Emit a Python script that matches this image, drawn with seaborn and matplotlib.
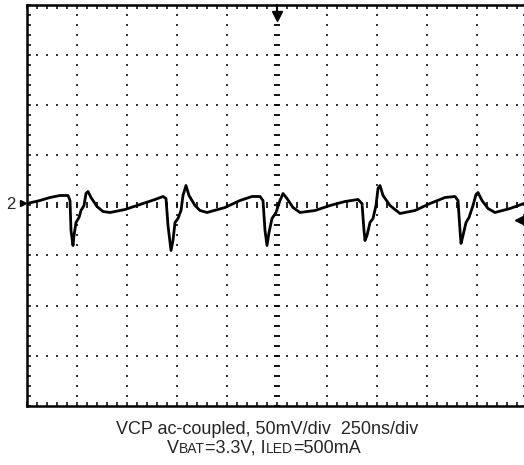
import numpy as np
import pandas as pd
import seaborn as sns
import matplotlib.pyplot as plt
from matplotlib.offsetbox import TextArea, HPacker, AnnotationBbox

# ------------------------------------------------------------
# Scope trace (time in ns, VCP in mV, ac-coupled)
# ------------------------------------------------------------
time_ns = [0, 65, 115, 165, 205, 215, 220, 230, 235, 245, 260, 270, 285, 295, 305,
           320, 350, 380, 415, 490, 565, 640, 680, 695, 705, 720, 730, 740, 755,
           770, 780, 795, 810, 840, 865, 900, 990, 1065, 1125, 1165, 1180, 1190,
           1200, 1210, 1225, 1245, 1265, 1280, 1300, 1330, 1365, 1440, 1515, 1590,
           1655, 1675, 1685, 1690, 1700, 1715, 1730, 1745, 1755, 1765, 1780, 1815,
           1865, 1940, 2015, 2090, 2140, 2155, 2165, 2170, 2180, 2195, 2210, 2230,
           2245, 2255, 2275, 2305, 2340, 2415, 2485]
vcp_mv = [2, 5, 8, 10, 10, 5, -25, -40, -30, -17, -12, -5, 0, 12, 14,
          8, -1, -6, -7, -4, 1, 6, 9, 7, -20, -45, -35, -17, -13,
          -5, 10, 20, 10, 0, -5, -7, -2, 5, 9, 9, 5, -25,
          -40, -27, -13, -7, 5, 12, 7, -2, -7, -5, 0, 4,
          6, 2, -25, -35, -30, -17, -13, 0, 17, 20, 10, 0,
          -8, -5, 2, 8, 9, 5, -25, -38, -30, -17, -12, 0,
          11, 13, 5, -3, -7, -3, 2]

volts_per_div = 50     # mV/div
time_per_div = 250     # ns/div
n_hdiv, n_vdiv = 10, 8
trigger_level_mv = -15
caption_1 = "VCP ac-coupled, 50mV/div  250ns/div"

df = pd.DataFrame({"t": time_ns, "v": vcp_mv})

sns.set_style("white")
plt.rcParams["font.family"] = ["Liberation Sans", "DejaVu Sans"]

fig = plt.figure(figsize=(5.24, 4.65), dpi=100)
# screen is 500x400 px, starting 27 px from the left; right edge runs off the picture
ax = fig.add_axes([27 / 524, 59.5 / 465, 500 / 524, 400 / 465])

t_max = n_hdiv * time_per_div
v_max = n_vdiv / 2 * volts_per_div
ax.set_xlim(0, t_max)
ax.set_ylim(-v_max, v_max)

# dotted graticule: one dot every 1/5 division
minor_t = np.arange(0, t_max + 1, time_per_div / 5)
minor_v = np.arange(-v_max, v_max + 1, volts_per_div / 5)
grid_t = [t for t in np.arange(time_per_div, t_max, time_per_div) if t != t_max / 2]
grid_v = [v for v in np.arange(-v_max + volts_per_div, v_max, volts_per_div) if v != 0]
for t in grid_t:
    ax.scatter(np.full(len(minor_v), t), minor_v, marker="s", s=1.5, color="#333333", lw=0, zorder=1)
for v in grid_v:
    ax.scatter(minor_t, np.full(len(minor_t), v), marker="s", s=1.5, color="#333333", lw=0, zorder=1)

# centre axes with small tick dashes
ax.plot(minor_t, np.zeros(len(minor_t)), ls="none", marker="|", ms=5, mew=1.2, color="black", zorder=1)
ax.plot(np.full(len(minor_v), t_max / 2), minor_v, ls="none", marker="_", ms=4.5, mew=1.3, color="black", zorder=1)

# the trace
sns.lineplot(data=df, x="t", y="v", ax=ax, color="black", lw=2.0, zorder=3)

# border ticks
ax.set_xticks(minor_t)
ax.set_yticks(minor_v)
ax.tick_params(direction="in", length=3.0, width=1.3, top=True, right=True,
               labelbottom=False, labelleft=False, bottom=True, left=True)
for s in ax.spines.values():
    s.set_linewidth(1.8)
    s.set_color("black")
ax.set_xlabel("")
ax.set_ylabel("")

# markers: trigger position (top), channel 2 ground (left), trigger level (right)
ax.plot([t_max / 2, t_max / 2], [v_max, v_max - 8], color="black", lw=1.5, clip_on=False, zorder=4)
ax.plot(t_max / 2, v_max - 11, marker="v", ms=7.5, color="black", clip_on=False, zorder=4)
ax.plot(-22, 2, marker=">", ms=5, color="black", clip_on=False, zorder=4)
ax.text(-80, 1, "2", ha="center", va="center", fontsize=12, clip_on=False)
ax.plot(t_max - 35, trigger_level_mv, marker="<", ms=7.5, color="black", clip_on=False, zorder=4)

# captions
fig.text(267 / 524, 1 - 429 / 465, caption_1, ha="center", va="center", fontsize=13)

big = dict(fontsize=13, family=["Liberation Sans", "DejaVu Sans"])
small = dict(fontsize=10, family=["Liberation Sans", "DejaVu Sans"])
parts = [("V", big), ("BAT", small), ("=3.3V, I", big), ("LED", small), ("=500mA", big)]
row = HPacker(children=[TextArea(s, textprops=p) for s, p in parts],
              align="baseline", pad=0, sep=0)
ab = AnnotationBbox(row, (264 / 524, 1 - 448 / 465), xycoords="figure fraction",
                    frameon=False, box_alignment=(0.5, 0.5), pad=0)
fig.add_artist(ab)

fig.savefig("out.png", dpi=100)
